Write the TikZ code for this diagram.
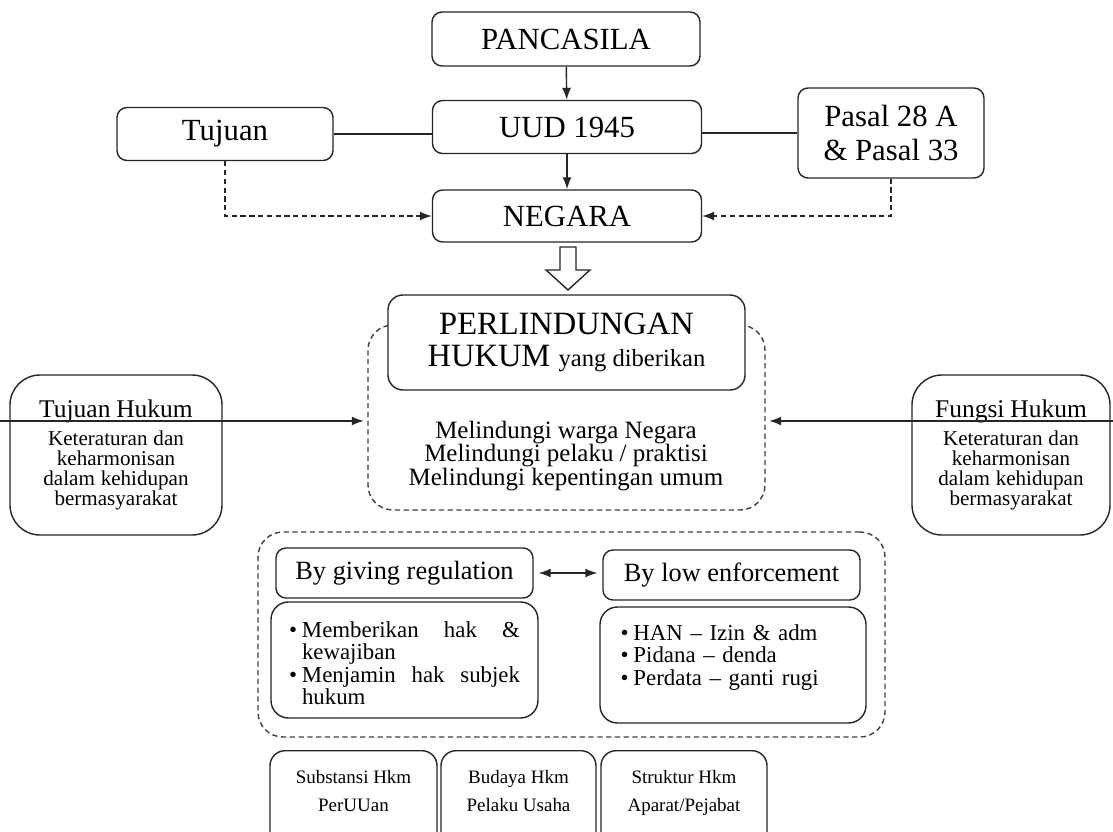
\documentclass[tikz,border=0pt]{standalone}
\usepackage{fontspec}
\setmainfont{Liberation Serif}
\usetikzlibrary{arrows.meta,positioning}
\newcommand{\bulletitem}[1]{\par\hangindent=0.26cm\hangafter=1\noindent\makebox[0.26cm][l]{\textbullet}#1\par}

\begin{document}
\begin{tikzpicture}[
  box/.style={rectangle, rounded corners=2mm, draw=black!85, line width=0.8pt, fill=white, align=center, inner sep=2pt},
  head/.style={box, font=\fontsize{17.5}{19}\selectfont, minimum height=1.06cm},
  side/.style={box, rounded corners=6mm, minimum width=4.24cm, minimum height=3.2cm, text width=4cm},
  dbox/.style={rectangle, rounded corners=5mm, draw=black!75, line width=0.8pt, dash pattern=on 3pt off 2pt},
  way/.style={box, font=\fontsize{15}{15}\selectfont, minimum width=5.14cm, minimum height=1cm},
  lst/.style={box, rounded corners=3.5mm, font=\fontsize{13}{12.8}\selectfont, minimum height=2.32cm},
  bot/.style={box, rounded corners=3mm, anchor=north, inner ysep=0.4cm, text depth=1.6cm, font=\fontsize{10.8}{16}\selectfont},
  arr/.style={-{Latex[length=2.4mm,width=1.8mm]}, line width=0.8pt, black!85},
  darr/.style={arr, dash pattern=on 3pt off 2pt},
  ln/.style={line width=0.8pt, black!85}
]
\useasboundingbox (0,0) rectangle (22.26,-16.64);
\clip (0,0) rectangle (22.26,-16.64);
% top chain
\node[head, minimum width=5.36cm, minimum height=1.08cm] (pancasila) at (11.32,-0.78) {PANCASILA};
\node[head, minimum width=5.38cm] (uud) at (11.34,-2.54) {UUD 1945};
\node[head, minimum width=4.32cm] (tujuan) at (4.5,-2.68) {Tujuan};
\node[head, minimum width=3.72cm, minimum height=1.8cm] (pasal) at (17.82,-2.66) {Pasal 28 A\\\& Pasal 33};
\node[head, minimum width=5.38cm, minimum height=1.04cm] (negara) at (11.34,-4.32) {NEGARA};
\draw[arr] (pancasila) -- (uud);
\draw[arr] (uud) -- (negara);
\draw[ln] (tujuan.east) -- (tujuan.east -| uud.west);
\draw[ln] (pasal.west -| uud.east) -- (pasal.west);
\draw[darr] (tujuan.south) |- (negara.west);
\draw[darr] (pasal.south) |- (negara.east);
% hollow arrow
\draw[ln, fill=white] (11.2,-4.94) -- (11.52,-4.94) -- (11.52,-5.4) -- (11.8,-5.4) -- (11.36,-5.8) -- (10.92,-5.4) -- (11.2,-5.4) -- cycle;
% protection
\node[dbox, minimum width=7.94cm, minimum height=3.7cm] (prot) at (11.33,-8.35) {};
\node[box, rounded corners=3mm, minimum width=7.14cm, minimum height=1.9cm, font=\fontsize{18.5}{18}\selectfont] (lind) at (11.33,-6.85) {PERLINDUNGAN\\HUKUM {\fontsize{14}{14}\selectfont yang diberikan}};
\node[font=\fontsize{14.2}{13.6}\selectfont, align=center] (prottxt) at (11.32,-9.12) {Melindungi warga Negara\\Melindungi pelaku / praktisi\\Melindungi kepentingan umum};
% sides
\node[side] (tjhukum) at (2.32,-9.1) {{\fontsize{14.5}{16}\selectfont Tujuan Hukum\par}\vspace{3pt}{\fontsize{12}{11.4}\selectfont Keteraturan dan\\keharmonisan\\dalam kehidupan\\bermasyarakat\par}};
\node[side, minimum width=3.96cm, text width=3.8cm] (fghukum) at (20.22,-9.1) {{\fontsize{14.5}{16}\selectfont Fungsi Hukum\par}\vspace{3pt}{\fontsize{12}{11.4}\selectfont Keteraturan dan\\keharmonisan\\dalam kehidupan\\bermasyarakat\par}};
\coordinate (lfree) at (0,-8.42);
\coordinate (rfree) at (22.26,-8.42);
\draw[arr, shorten >=2pt] (lfree) -- (lfree -| prot.west);
\draw[arr, shorten >=2pt] (rfree) -- (rfree -| prot.east);
% ways
\node[dbox, minimum width=12.54cm, minimum height=4.1cm] (ways) at (11.43,-12.69) {};
\node[way] (reg) at (8.09,-11.46) {By giving regulation};
\node[way] (enf) at (14.63,-11.5) {By low enforcement};
\draw[arr, {Latex[length=2.4mm,width=1.8mm]}-{Latex[length=2.4mm,width=1.8mm]}, shorten <=0.1cm, shorten >=0.1cm] (reg.east) -- (reg.east -| enf.west);
\node[lst, minimum width=5.34cm, text width=4.62cm, align=justify] (give) at (8.09,-13.2) {\hyphenpenalty=10000\bulletitem{Memberikan hak \& kewajiban}\bulletitem{Menjamin hak subjek hukum}};
\node[lst, minimum width=5.32cm, text width=4.5cm, align=left] (law) at (14.66,-13.3) {\bulletitem{HAN -- Izin \& adm}\bulletitem{Pidana -- denda}\bulletitem{Perdata -- ganti rugi}\noindent\rule{0pt}{0.4cm}};
% bottom
\node[bot, minimum width=3.34cm] (subst) at (7.07,-15.0) {Substansi Hkm\\PerUUan};
\node[bot, minimum width=3.1cm] (budaya) at (10.37,-15.0) {Budaya Hkm\\Pelaku Usaha};
\node[bot, minimum width=3.32cm] (struktur) at (13.68,-15.0) {Struktur Hkm\\Aparat/Pejabat};
\end{tikzpicture}
\end{document}
